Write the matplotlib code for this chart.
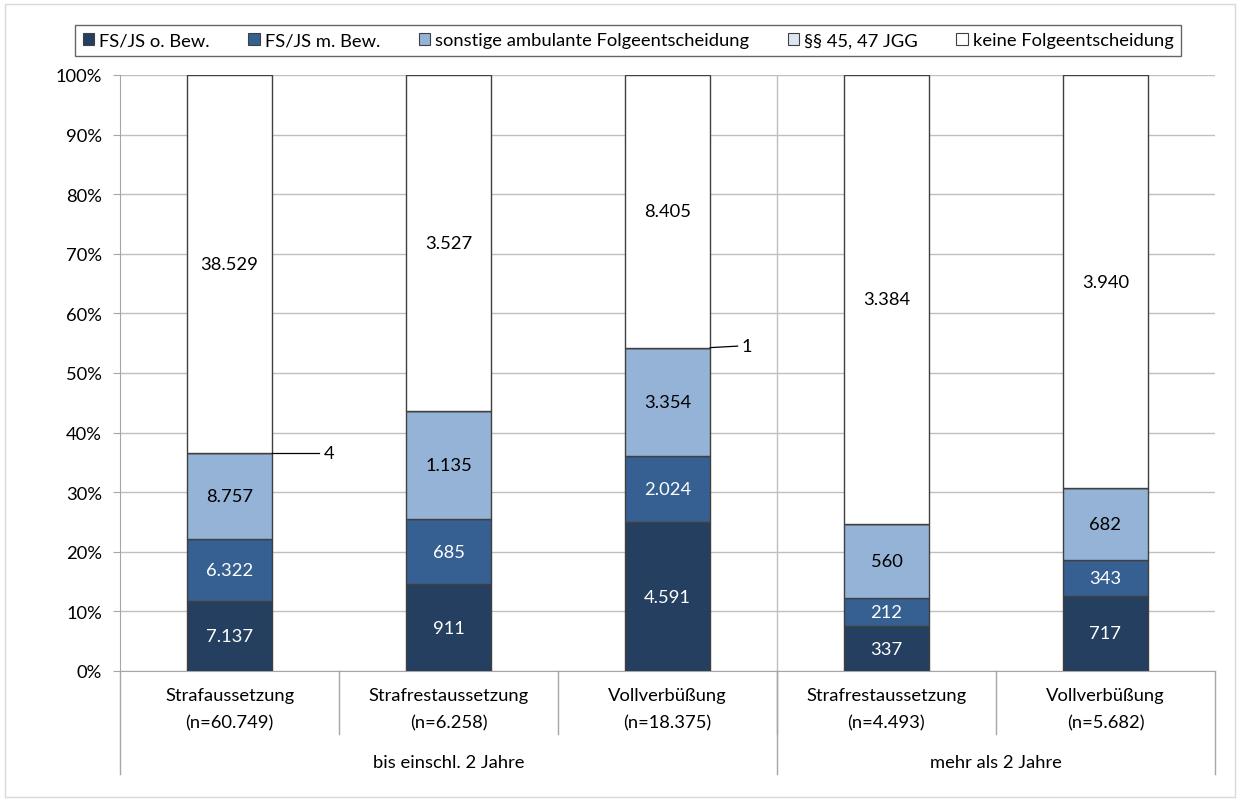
import matplotlib
matplotlib.use("Agg")
import matplotlib.pyplot as plt
import matplotlib.patches as mpatches
import matplotlib.transforms as mtransforms
import numpy as np

plt.rcParams['font.family'] = ['Lato', 'DejaVu Sans']

# categories and counts
categories = ["Strafaussetzung\n(n=60.749)", "Strafrestaussetzung\n(n=6.258)", "Vollverbüßung\n(n=18.375)",
              "Strafrestaussetzung\n(n=4.493)", "Vollverbüßung\n(n=5.682)"]
groups = ["bis einschl. 2 Jahre", "mehr als 2 Jahre"]
group_sizes = [3, 2]

series = ["FS/JS o. Bew.", "FS/JS m. Bew.", "sonstige ambulante Folgeentscheidung",
          "§§ 45, 47 JGG", "keine Folgeentscheidung"]
fs_ohne = [7137, 911, 4591, 337, 717]
fs_mit = [6322, 685, 2024, 212, 343]
sonstige = [8757, 1135, 3354, 560, 682]
jgg = [4, 0, 1, 0, 0]
keine = [38529, 3527, 8405, 3384, 3940]

colors = ["#243f60", "#366092", "#95b3d7", "#dce6f2", "#ffffff"]
text_colors = ["white", "white", "black", "black", "black"]
fsize = 13.2

data = np.array([fs_ohne, fs_mit, sonstige, jgg, keine], dtype=float)
totals = data.sum(axis=0)
pct = data / totals * 100

fig = plt.figure(figsize=(12.4, 8.03), dpi=100)
ax = fig.add_axes([120 / 1240, 1 - 672 / 803, 1095 / 1240, 596 / 803])

x = np.arange(len(categories))
width = 0.39
bottom = np.zeros(len(categories))
for i, name in enumerate(series):
    ax.bar(x, pct[i], width, bottom=bottom, color=colors[i], edgecolor="#404040",
           linewidth=1, label=name, zorder=3)
    for j in range(len(categories)):
        v = int(data[i, j])
        if v == 0:
            continue
        lab = f"{v:,}".replace(",", ".")
        if pct[i, j] > 2:
            ax.text(x[j], bottom[j] + pct[i, j] / 2, lab, ha="center", va="center",
                    fontsize=fsize, color=text_colors[i], zorder=4)
        else:
            # tiny segments get a leader line
            y0 = bottom[j] + pct[i, j]
            dy = 0.25 if v == 1 else 0
            dx = 0.32 if v == 1 else 0.41
            ax.plot([x[j] + width / 2, x[j] + dx], [y0, y0 + dy], color="black", lw=0.9, zorder=4)
            ax.text(x[j] + dx + 0.02, y0 + dy, lab, ha="left", va="center", fontsize=fsize, zorder=4)
    bottom += pct[i]

ax.set_xlim(-0.5, len(categories) - 0.5)
ax.set_ylim(0, 100)
ax.set_yticks(np.arange(0, 101, 10))
ax.set_yticklabels([f"{t}%" for t in range(0, 101, 10)], fontsize=fsize)
ax.yaxis.grid(True, color="#bfbfbf", lw=1, zorder=0)
ax.tick_params(axis="y", length=5, color="#a6a6a6", pad=8)
ax.set_xticks([])
for s in ["top", "right"]:
    ax.spines[s].set_visible(False)
ax.spines["left"].set_color("#a6a6a6")
ax.spines["bottom"].set_color("#a6a6a6")

# category labels and separators below the axis
trans = mtransforms.blended_transform_factory(ax.transData, ax.transAxes)
for j, c in enumerate(categories):
    ax.text(x[j], -0.027, c, transform=trans, ha="center", va="top", fontsize=fsize,
            linespacing=1.85)
for b in range(1, len(categories)):
    ax.plot([b - 0.5, b - 0.5], [0, -0.106], transform=trans, color="#a6a6a6", lw=1, clip_on=False)
start = 0
edges = [-0.5]
for g, n in zip(groups, group_sizes):
    ax.text(start + (n - 1) / 2, -0.152, g, transform=trans, ha="center", va="center", fontsize=fsize)
    start += n
    edges.append(start - 0.5)
for e in edges:
    ax.plot([e, e], [0, -0.173], transform=trans, color="#a6a6a6", lw=1, clip_on=False)
# group separator through the plot area
ax.plot([edges[1], edges[1]], [0, 1], transform=trans, color="#bfbfbf", lw=1, zorder=1)

leg = fig.legend(loc="upper left", bbox_to_anchor=(66 / 1240, 1 - 17 / 803), ncol=5,
                 fontsize=fsize, frameon=True, fancybox=False, edgecolor="#404040",
                 handlelength=0.65, handleheight=0.65, handletextpad=0.25,
                 columnspacing=2.1, borderpad=0.4)
for h in leg.legend_handles:
    h.set_edgecolor("#404040")
    h.set_linewidth(0.8)
leg.get_frame().set_linewidth(1)

fig.patches.append(mpatches.Rectangle((5 / 1240, 5 / 803), 1230 / 1240, 793 / 803,
                                      transform=fig.transFigure, fill=False,
                                      edgecolor="#d9d9d9", lw=1))

fig.savefig("out.png", dpi=100)
